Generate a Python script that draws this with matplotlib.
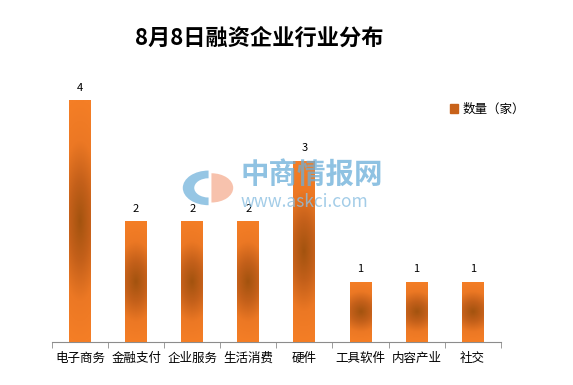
import matplotlib
matplotlib.use("Agg")
import matplotlib.pyplot as plt
import numpy as np
from matplotlib.colors import LinearSegmentedColormap
from matplotlib.patches import Wedge

plt.rcParams['font.family'] = ['Noto Sans CJK SC', 'DejaVu Sans']

categories = ['电子商务', '金融支付', '企业服务', '生活消费', '硬件', '工具软件', '内容产业', '社交']
counts = [4, 2, 2, 2, 3, 1, 1, 1]
title = '8月8日融资企业行业分布'
legend_label = '数量（家）'

fig = plt.figure(figsize=(5.73, 3.85), dpi=100)
ax = fig.add_axes([0.0908, 0.1117, 0.783, 0.7065])

x = np.arange(len(categories))
bars = ax.bar(x, counts, width=0.39, color='#e8741e', zorder=2, label=legend_label)

# radial-ish gradient inside each bar (dark centre, bright orange edges)
cmap = LinearSegmentedColormap.from_list('bar', ['#a3530f', '#c4601a', '#ec7824', '#f47e26'])
gx, gy = np.meshgrid(np.linspace(-1, 1, 40), np.linspace(-1, 1, 200))
grad = np.clip(np.sqrt((gx * 0.35) ** 2 + gy ** 2), 0, 1)
for b in bars:
    x0, w, h = b.get_x(), b.get_width(), b.get_height()
    im = ax.imshow(grad, cmap=cmap, extent=[x0, x0 + w, 0, h], aspect='auto',
                   zorder=3, interpolation='bilinear', vmin=0, vmax=1)
    im.set_clip_path(b)
    ax.text(x0 + w / 2, h + 0.12, str(int(h)), ha='center', va='bottom',
            fontsize=8, zorder=4)

ax.set_xlim(-0.5, len(categories) - 0.5)
ax.set_ylim(0, 4.5)
ax.set_xticks(x)
ax.set_xticklabels(categories, fontsize=9)
ax.set_xticks(np.arange(len(categories) + 1) - 0.5, minor=True)
ax.tick_params(axis='x', which='major', length=0, pad=7)
ax.tick_params(axis='x', which='minor', length=4, color='#8c8c8c', direction='out')
ax.set_yticks([])
for s in ['top', 'right', 'left']:
    ax.spines[s].set_visible(False)
ax.spines['bottom'].set_color('#8c8c8c')

fig.text(0.452, 0.9, title, ha='center', va='center', fontsize=16, fontweight='bold')

leg = fig.legend(loc='center left', bbox_to_anchor=(0.765, 0.715), frameon=False,
                 fontsize=9, handlelength=0.7, handleheight=0.7, handletextpad=0.3)
for h in leg.legend_handles:
    h.set_color('#c8621a')

# watermark
fig.text(0.419, 0.545, '中商情报网', fontsize=20.5, fontweight='bold', color='#6aaed9',
         alpha=0.75, ha='left', va='center', zorder=1)
fig.text(0.419, 0.476, 'www.askci.com', fontsize=12.5, style='italic', color='#8cc0e2',
         alpha=0.8, ha='left', va='center', zorder=1)
fig.patches.append(Wedge((0.364, 0.512), 0.045, 90, 270, width=0.02, transform=fig.transFigure,
                         facecolor='#6aaed9', alpha=0.7, zorder=1))
fig.patches.append(Wedge((0.369, 0.512), 0.038, 270, 90, transform=fig.transFigure,
                         facecolor='#f5a98a', alpha=0.7, zorder=1))

fig.savefig('out.png', dpi=100)
